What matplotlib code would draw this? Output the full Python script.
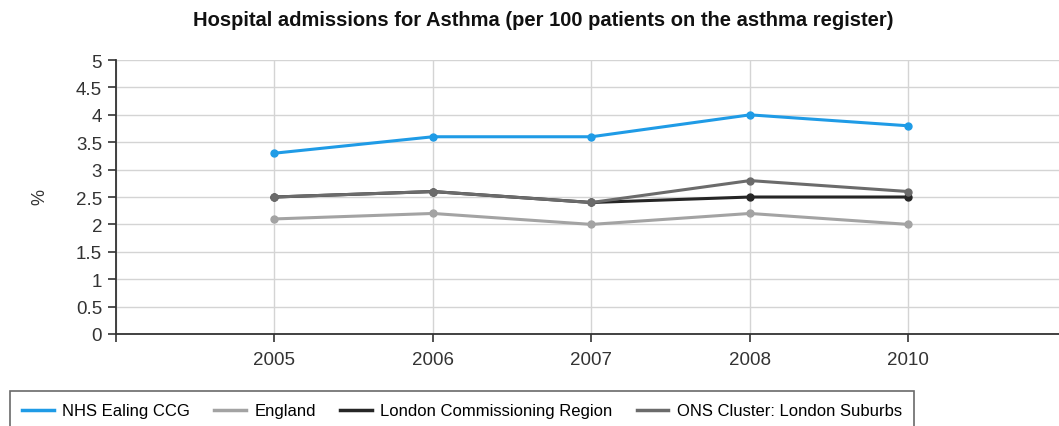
import numpy as np
import matplotlib.pyplot as plt

# data
years = ['2005', '2006', '2007', '2008', '2010']
ealing = [3.3, 3.6, 3.6, 4.0, 3.8]
england = [2.1, 2.2, 2.0, 2.2, 2.0]
london = [2.5, 2.6, 2.4, 2.5, 2.5]
ons = [2.5, 2.6, 2.4, 2.8, 2.6]

names = ['NHS Ealing CCG', 'England', 'London Commissioning Region',
         'ONS Cluster: London Suburbs']
colors = ['#1f9be6', '#a3a3a3', '#262626', '#6b6b6b']

plt.rcParams['font.family'] = ['Liberation Sans', 'DejaVu Sans']

fig = plt.figure(figsize=(10.59, 4.27), dpi=100)
ax = fig.add_axes([0.1095, 0.2155, 0.8905, 0.6415])

x = np.arange(len(years))
for vals, c in zip([ealing, england, london, ons], colors):
    ax.plot(x, vals, color=c, lw=2.2, marker='o', ms=5)

ax.set_xlim(-1, 4.95)
ax.set_ylim(0, 5)
ax.set_yticks(np.arange(0, 5.01, 0.5))
ax.set_yticklabels(['0', '0.5', '1', '1.5', '2', '2.5', '3', '3.5', '4', '4.5', '5'])
ax.set_xticks([-1] + list(x))
ax.set_xticklabels([''] + years)
ax.tick_params(labelsize=13.5, colors='#333333', length=6, width=1.2, pad=4)
ax.tick_params(axis='x', pad=6)
ax.grid(True, color='#d4d4d4', lw=1)
ax.set_axisbelow(True)
for s in ['top', 'right']:
    ax.spines[s].set_visible(False)
for s in ['left', 'bottom']:
    ax.spines[s].set_color('#333333')
    ax.spines[s].set_linewidth(1.3)

fig.text(0.038, 0.538, '%', rotation=90, fontsize=13, color='#333333',
         ha='center', va='center')
fig.text(0.513, 0.952, 'Hospital admissions for Asthma (per 100 patients on the asthma register)',
         fontsize=14.5, fontweight='bold', ha='center', va='center', color='#111111')

handles = [plt.Line2D([], [], color=c, lw=2.5) for c in colors]
leg = fig.legend(handles, names, loc='upper left', bbox_to_anchor=(0.0094, 0.082),
                 ncol=4, frameon=True, fancybox=False, fontsize=12,
                 handlelength=1.9, columnspacing=1.45, handletextpad=0.5,
                 borderpad=0.75, borderaxespad=0)
leg.get_frame().set_edgecolor('#444444')
leg.get_frame().set_linewidth(1.2)

fig.savefig('out.png', dpi=100)
